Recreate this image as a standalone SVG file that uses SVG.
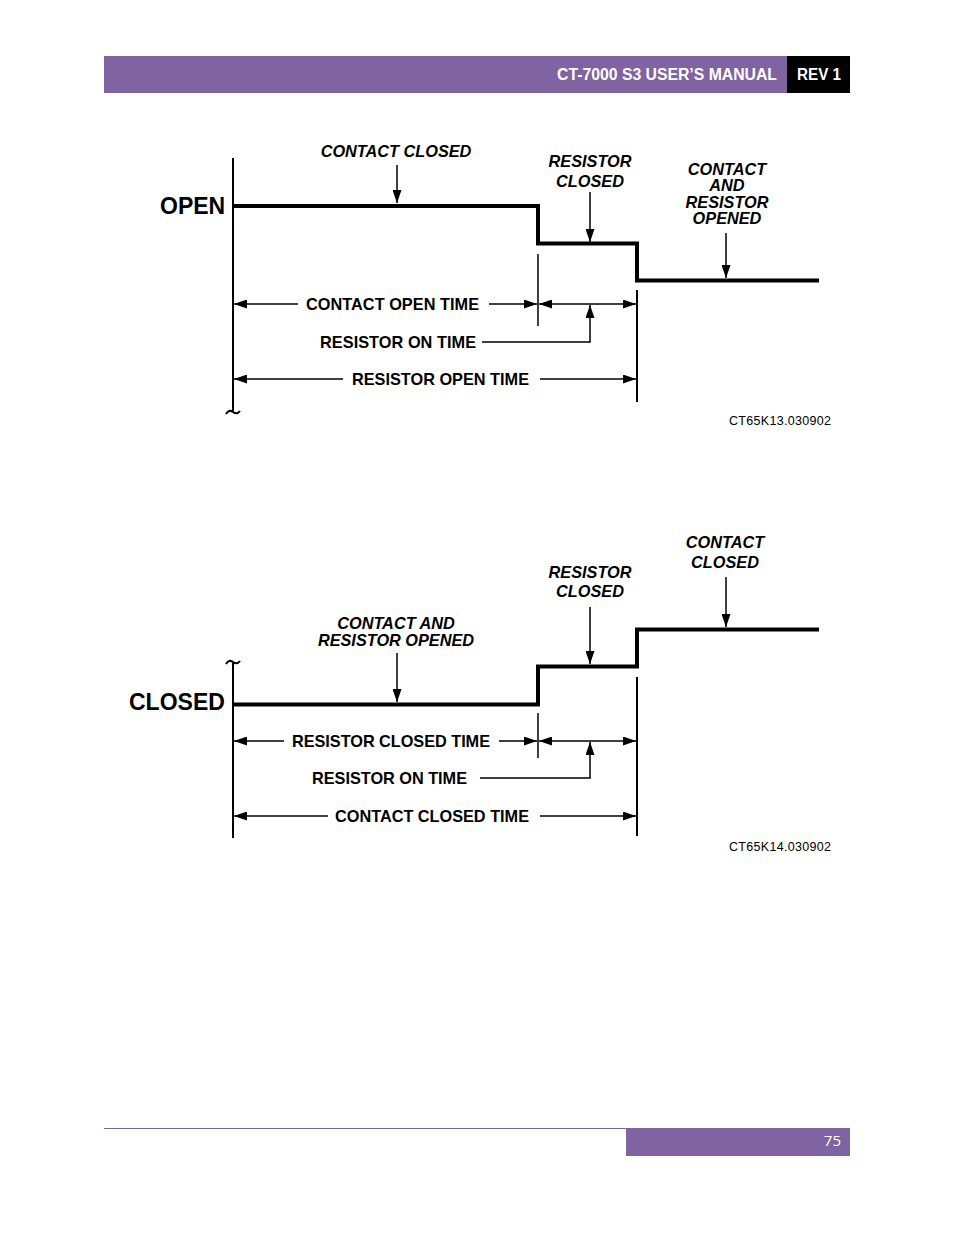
<svg xmlns="http://www.w3.org/2000/svg" width="954" height="1235" viewBox="0 0 954 1235">
<style>
.bg{fill:#ffffff}
.wave{fill:none;stroke:#000;stroke-width:4;stroke-linejoin:miter}
.ax{fill:none;stroke:#000;stroke-width:2}
.ln{fill:none;stroke:#000;stroke-width:1.5}
.lbl{font-family:"Liberation Sans",Arial,sans-serif;font-weight:bold;font-size:16.3px;fill:#000}
.it{font-style:italic;text-anchor:middle}
.big{font-family:"Liberation Sans",Arial,sans-serif;font-weight:bold;font-size:23px;fill:#000}
.code{font-family:"Liberation Sans",Arial,sans-serif;font-size:12.5px;fill:#000}
.hdr{font-family:"Liberation Sans",Arial,sans-serif;font-weight:bold;font-size:16px;fill:#fff}
</style>
<defs>
<marker id="ah" markerUnits="userSpaceOnUse" markerWidth="14" markerHeight="9" refX="13" refY="4.5" orient="auto-start-reverse" viewBox="0 0 14 9">
<path d="M0,0 L13,4.5 L0,9 z" fill="#000"/>
</marker>
</defs>
<rect class="bg" x="0" y="0" width="954" height="1235"/>

<g id="header">
<rect x="104" y="56" width="683" height="37" fill="#8064A2"/>
<rect x="787" y="56" width="63" height="37" fill="#000"/>
<text class="hdr" x="557" y="80" textLength="220" lengthAdjust="spacingAndGlyphs">CT-7000 S3 USER’S MANUAL</text>
<text class="hdr" x="797" y="80" textLength="44" lengthAdjust="spacingAndGlyphs">REV 1</text>
</g>

<g id="footer">
<line x1="104" y1="1128.5" x2="850" y2="1128.5" stroke="#8064A2" stroke-width="1"/>
<rect x="626" y="1128" width="224" height="28" fill="#8064A2"/>
<text x="841" y="1146" font-family="'Open Sans','Liberation Sans',sans-serif" font-size="15" fill="#fff" text-anchor="end">75</text>
</g>

<!-- Diagram 1: OPEN -->
<g id="diagram-open">
<g id="open-axis">
<line class="ax" x1="233" y1="158" x2="233" y2="411"/>
<path class="ax" d="M226,414 q3,-5 7,-2 t7,-1" stroke-width="1.5"/>
<text class="big" x="160" y="214">OPEN</text>
</g>
<g id="open-wave">
<polyline class="wave" points="233,206 538,206 538,243.5 637,243.5 637,280.5 819,280.5"/>
</g>
<g id="open-contact-closed">
<text class="lbl it" x="396" y="157">CONTACT CLOSED</text>
</g>
<g id="open-resistor-closed">
<text class="lbl it" x="590" y="167">RESISTOR</text>
<text class="lbl it" x="590" y="187">CLOSED</text>
</g>
<g id="open-contact-resistor-opened">
<text class="lbl it" x="727" y="175">CONTACT</text>
<text class="lbl it" x="727" y="191">AND</text>
<text class="lbl it" x="727" y="208">RESISTOR</text>
<text class="lbl it" x="727" y="224">OPENED</text>
</g>
<g id="open-contact-open-time">
<text class="lbl" x="306" y="309.5" textLength="173">CONTACT OPEN TIME</text>
</g>
<g id="open-resistor-on-time">
<text class="lbl" x="320" y="347.5" textLength="156">RESISTOR ON TIME</text>
</g>
<g id="open-resistor-open-time">
<text class="lbl" x="352" y="385" textLength="177">RESISTOR OPEN TIME</text>
</g>
<text class="code" x="729" y="425" textLength="102">CT65K13.030902</text>
</g>

<!-- Diagram 2: CLOSED -->
<g id="diagram-closed">
<g id="closed-axis">
<line class="ax" x1="233" y1="663" x2="233" y2="838"/>
<path class="ax" d="M226,664 q3,-5 7,-2 t7,-1" stroke-width="1.5"/>
<text class="big" x="129" y="710">CLOSED</text>
</g>
<g id="closed-wave">
<polyline class="wave" points="233,704.5 538,704.5 538,666.5 637,666.5 637,629.5 819,629.5"/>
</g>
<g id="closed-contact-resistor-opened">
<text class="lbl it" x="396" y="629">CONTACT AND</text>
<text class="lbl it" x="396" y="646">RESISTOR OPENED</text>
</g>
<g id="closed-resistor-closed">
<text class="lbl it" x="590" y="578">RESISTOR</text>
<text class="lbl it" x="590" y="597">CLOSED</text>
</g>
<g id="closed-contact-closed">
<text class="lbl it" x="725" y="548">CONTACT</text>
<text class="lbl it" x="725" y="568">CLOSED</text>
</g>
<g id="closed-resistor-closed-time">
<text class="lbl" x="292" y="746.5" textLength="198">RESISTOR CLOSED TIME</text>
</g>
<g id="closed-resistor-on-time">
<text class="lbl" x="312" y="783.5" textLength="155">RESISTOR ON TIME</text>
</g>
<g id="closed-contact-closed-time">
<text class="lbl" x="335" y="822" textLength="194">CONTACT CLOSED TIME</text>
</g>
<text class="code" x="729" y="851" textLength="102">CT65K14.030902</text>
</g>

<g id="connectors">
<!-- diagram 1 pointers -->
<line class="ln" x1="397" y1="165" x2="397" y2="203" marker-end="url(#ah)"/>
<line class="ln" x1="590" y1="192" x2="590" y2="242" marker-end="url(#ah)"/>
<line class="ln" x1="726" y1="233" x2="726" y2="278" marker-end="url(#ah)"/>
<!-- diagram 1 extension lines -->
<line class="ln" x1="538" y1="254" x2="538" y2="326"/>
<line class="ax" x1="637" y1="290" x2="637" y2="402"/>
<!-- diagram 1 dimensions -->
<line class="ln" x1="298" y1="304" x2="234" y2="304" marker-end="url(#ah)"/>
<line class="ln" x1="489" y1="304" x2="537" y2="304" marker-end="url(#ah)"/>
<line class="ln" x1="539" y1="304" x2="636" y2="304" marker-start="url(#ah)" marker-end="url(#ah)"/>
<polyline class="ln" points="482,342 590,342 590,305" marker-end="url(#ah)"/>
<line class="ln" x1="343" y1="379" x2="234" y2="379" marker-end="url(#ah)"/>
<line class="ln" x1="540" y1="379" x2="636" y2="379" marker-end="url(#ah)"/>

<!-- diagram 2 pointers -->
<line class="ln" x1="397" y1="653" x2="397" y2="702" marker-end="url(#ah)"/>
<line class="ln" x1="590" y1="607" x2="590" y2="664" marker-end="url(#ah)"/>
<line class="ln" x1="726" y1="577" x2="726" y2="627" marker-end="url(#ah)"/>
<!-- diagram 2 extension lines -->
<line class="ln" x1="538" y1="713" x2="538" y2="758"/>
<line class="ax" x1="637" y1="677" x2="637" y2="836"/>
<!-- diagram 2 dimensions -->
<line class="ln" x1="284" y1="741" x2="234" y2="741" marker-end="url(#ah)"/>
<line class="ln" x1="499" y1="741" x2="537" y2="741" marker-end="url(#ah)"/>
<line class="ln" x1="539" y1="741" x2="636" y2="741" marker-start="url(#ah)" marker-end="url(#ah)"/>
<polyline class="ln" points="480,778 590,778 590,742" marker-end="url(#ah)"/>
<line class="ln" x1="328" y1="816" x2="234" y2="816" marker-end="url(#ah)"/>
<line class="ln" x1="540" y1="816" x2="636" y2="816" marker-end="url(#ah)"/>
</g>
</svg>
